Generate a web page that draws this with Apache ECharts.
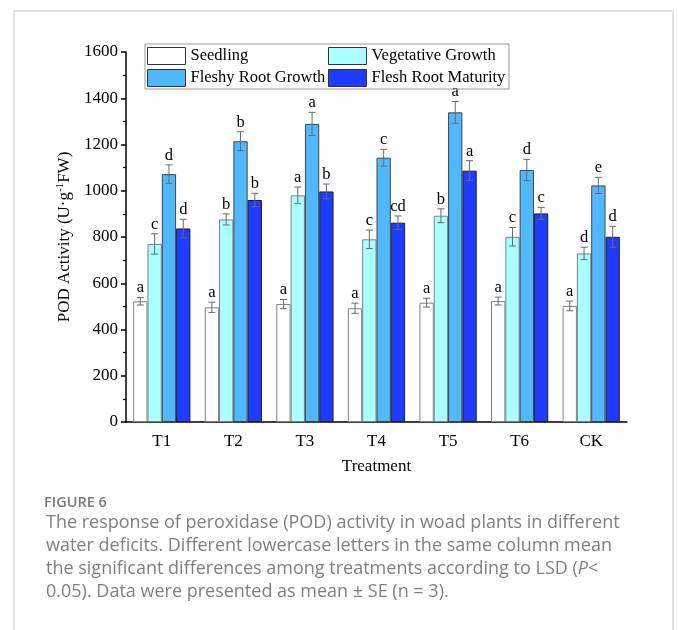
<!DOCTYPE html>
<html><head><meta charset="utf-8">
<script src="https://cdn.jsdelivr.net/npm/echarts@6/dist/echarts.min.js"></script>
<style>html,body{margin:0;padding:0;background:#fff}#c{width:678px;height:630px}</style>
</head><body><div id="c"></div>
<script>
const categories = ['T1','T2','T3','T4','T5','T6','CK'];
const seriesNames = ['Seedling','Vegetative Growth','Fleshy Root Growth','Flesh Root Maturity'];
const seedling = [522, 496, 510, 492, 516, 523, 502];
const seedlingErr = [16, 22, 20, 22, 19, 17, 21];
const seedlingLetters = ['a','a','a','a','a','a','a'];
const vegetative = [770, 876, 980, 790, 892, 801, 729];
const vegetativeErr = [44, 24, 36, 40, 30, 40, 27];
const vegetativeLetters = ['c','b','a','c','b','c','d'];
const fleshy = [1072, 1214, 1289, 1143, 1339, 1090, 1023];
const fleshyErr = [40, 41, 50, 36, 47, 46, 35];
const fleshyLetters = ['d','b','a','c','a','d','e'];
const maturity = [837, 960, 997, 862, 1087, 902, 801];
const maturityErr = [40, 29, 32, 29, 43, 26, 45];
const maturityLetters = ['d','b','b','cd','a','c','d'];
const yTicks = [0, 200, 400, 600, 800, 1000, 1200, 1400, 1600];

const values = [seedling, vegetative, fleshy, maturity];
const errs = [seedlingErr, vegetativeErr, fleshyErr, maturityErr];
const letters = [seedlingLetters, vegetativeLetters, fleshyLetters, maturityLetters];
const fills = ['#ffffff', '#aaffff', '#50b8ff', '#1e3cff'];
const borders = ['#808080', '#808080', '#444444', '#222222'];
const serif = '"Liberation Serif", "Times New Roman", serif';
const capFont = '18px "Open Sans", sans-serif';

const chart = echarts.init(document.getElementById('c'), null, {renderer: 'canvas'});
const series = [];
values.forEach((v, i) => {
  series.push({
    name: seriesNames[i], type: 'bar', data: v,
    barGap: '0%', barCategoryGap: '20%',
    itemStyle: {color: fills[i], borderColor: borders[i], borderWidth: 1},
    z: 2
  });
});
values.forEach((v, i) => {
  series.push({
    type: 'custom', z: 5, silent: true,
    data: v.map((val, j) => [j, val, errs[i][j]]),
    encode: {x: 0, y: 1},
    renderItem: function (params, api) {
      const cat = api.value(0), val = api.value(1), e = api.value(2);
      const band = api.size([1, 0])[0];
      const bw = band * 0.8 / 4;
      const center = api.coord([cat, 0])[0];
      const x = center + (i - 1.5) * bw;
      const yTop = api.coord([cat, val + e])[1];
      const yBot = api.coord([cat, val - e])[1];
      const cap = 3.5;
      const st = {stroke: '#6a6a6a', lineWidth: 1};
      return {
        type: 'group',
        children: [
          {type: 'line', shape: {x1: x, y1: yTop, x2: x, y2: yBot}, style: st},
          {type: 'line', shape: {x1: x - cap, y1: yTop, x2: x + cap, y2: yTop}, style: st},
          {type: 'line', shape: {x1: x - cap, y1: yBot, x2: x + cap, y2: yBot}, style: st},
          {type: 'text', x: x, y: yTop - 1, style: {
            text: letters[i][params.dataIndex], fill: '#000', font: '16.5px ' + serif,
            textAlign: 'center', textVerticalAlign: 'bottom'}}
        ]
      };
    }
  });
});

const caption = [
  'The response of peroxidase (POD) activity in woad plants in different',
  'water deficits. Different lowercase letters in the same column mean',
  'the significant differences among treatments according to LSD (',
  '0.05). Data were presented as mean \u00b1 SE (n = 3).'
];

chart.setOption({
  animation: false,
  backgroundColor: '#fff',
  grid: {left: 126, right: 51, top: 52, bottom: 208, containLabel: false},
  legend: [
    {data: ['Seedling', 'Fleshy Root Growth'], orient: 'vertical', left: 147, top: 47, padding: 0,
     itemWidth: 38, itemHeight: 17, itemGap: 4, icon: 'rect',
     itemStyle: {borderColor: '#333', borderWidth: 1},
     textStyle: {fontFamily: serif, fontSize: 16.5, color: '#000'}},
    {data: ['Vegetative Growth', 'Flesh Root Maturity'], orient: 'vertical', left: 328, top: 47, padding: 0,
     itemWidth: 38, itemHeight: 17, itemGap: 4, icon: 'rect',
     itemStyle: {borderColor: '#333', borderWidth: 1},
     textStyle: {fontFamily: serif, fontSize: 16.5, color: '#000'}}
  ],
  xAxis: {
    type: 'category', data: categories,
    name: 'Treatment', nameLocation: 'middle', nameGap: 36,
    nameTextStyle: {fontFamily: serif, fontSize: 17, color: '#000'},
    axisLine: {lineStyle: {color: '#000', width: 1.5}},
    axisTick: {alignWithLabel: true, length: 5, lineStyle: {color: '#000', width: 1.5}},
    axisLabel: {fontFamily: serif, fontSize: 17, color: '#000', margin: 11}
  },
  yAxis: {
    type: 'value', min: yTicks[0], max: yTicks[yTicks.length - 1], interval: 200,
    name: '{a|POD Activity (U\u00b7g}{s|-1}{a|FW)}', nameLocation: 'middle', nameGap: 44,
    nameTextStyle: {rich: {
      a: {fontFamily: serif, fontSize: 17, color: '#000', lineHeight: 20},
      s: {fontFamily: serif, fontSize: 11, color: '#000', lineHeight: 20, verticalAlign: 'top'}
    }},
    axisLine: {show: true, lineStyle: {color: '#000', width: 1.5}},
    axisTick: {show: true, length: 5, lineStyle: {color: '#000', width: 1.5}},
    minorTick: {show: true, splitNumber: 2, length: 3, lineStyle: {color: '#000', width: 1.2}},
    splitLine: {show: false},
    axisLabel: {fontFamily: serif, fontSize: 17, color: '#000', margin: 8,
                formatter: function (v) { return String(v); }}
  },
  graphic: [
    {type: 'rect', shape: {x: 14, y: 11, width: 659, height: 640}, style: {fill: 'none', stroke: '#e2e2e2', lineWidth: 2}, z: -10},
    {type: 'rect', shape: {x: 145, y: 44, width: 364, height: 45}, style: {fill: 'none', stroke: '#999', lineWidth: 1}, z: 10},
    {type: 'text', x: 44, y: 495, style: {text: 'FIGURE 6', font: '600 14.5px "Open Sans", sans-serif', fill: '#7a7a7a'}},
    {type: 'text', x: 46, y: 514, style: {text: caption[0], font: capFont, fill: '#808080'}},
    {type: 'text', x: 46, y: 537, style: {text: caption[1], font: capFont, fill: '#808080'}},
    {type: 'text', x: 46, y: 560, style: {rich: {
      n: {font: capFont, fill: '#808080'},
      i: {font: 'italic ' + capFont, fill: '#808080'}
    }, text: '{n|' + caption[2] + '}{i|P}{n|<}'}},
    {type: 'text', x: 46, y: 583, style: {text: caption[3], font: capFont, fill: '#808080'}}
  ],
  series: series
});
</script></body></html>
